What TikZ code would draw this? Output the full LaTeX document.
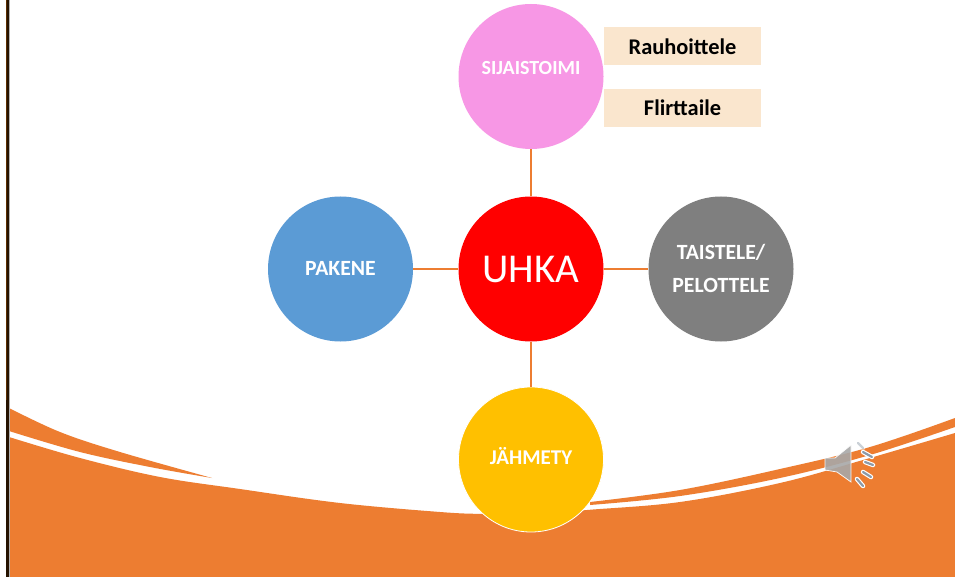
\documentclass[tikz,border=0pt]{standalone}
\usepackage{fontspec}
\setmainfont{Carlito}
\definecolor{orangeband}{HTML}{ED7D31}
\definecolor{tagfill}{HTML}{FAE6CE}
\definecolor{pinkc}{HTML}{F797E5}
\definecolor{bluec}{HTML}{5B9BD5}
\definecolor{grayc}{HTML}{7F7F7F}
\definecolor{yellowc}{HTML}{FFC000}
\definecolor{spkgray}{HTML}{A8A8A8}
\definecolor{spkdash}{HTML}{8C9AA8}
\newcommand{\shifted}[2]{\raisebox{#1}[0pt][0pt]{#2}}
\tikzset{
  circ/.style={circle,minimum size=145pt,inner sep=0pt,text=white,align=center,font=\fontsize{21.7}{32}\selectfont\bfseries},
  tag/.style={draw=none,fill=tagfill,minimum width=157pt,minimum height=38pt,inner sep=0pt,font=\fontsize{22.4}{24}\selectfont\bfseries},
  connline/.style={draw=orangeband,line width=1.2pt},
  spk/.style={draw=white,line width=0.8pt,fill=spkgray}
}
\begin{document}
\begin{tikzpicture}[x=1pt,y=-1pt]
\useasboundingbox (0,0) rectangle (955,577);
\fill[white] (0,0) rectangle (955,577);
% main orange swoosh
\fill[orangeband] plot[smooth,tension=0.6] coordinates {(9,437) (80,458) (160,477) (240,489) (340,503) (440,512) (482,514) (531,515) (587,510) (680,502) (780,483) (863,460) (955,433)} -- (955,577) -- (9,577) -- cycle;
% upper left sliver
\fill[orangeband] plot[smooth,tension=0.6] coordinates {(9,408) (60,432) (120,452) (212,478)} -- plot[smooth,tension=0.6] coordinates {(212,478) (150,467) (80,452) (9,431)} -- cycle;
% upper right sliver
\fill[orangeband] plot[smooth,tension=0.6] coordinates {(590,502) (680,490) (780,469) (870,447) (955,418)} -- plot[smooth,tension=0.6] coordinates {(955,427) (870,455) (780,478) (680,496) (590,505)} -- cycle;
% left rule
\fill[black!85!orange] (6,0) rectangle (9,577);
\fill[black!55!orange!80!black] (6,0) rectangle (7.2,400);
\fill[gray!60] (9,0) rectangle (9.8,577);
% speaker
\fill[spk,draw=white,opacity=0.9] (825,458) -- (835,458) -- (851,445) -- (851,482) -- (837,472) -- (825,470) -- cycle;
\foreach \a/\b/\c/\d/\o in {858/443/863/448/0.45,863/452/872/457/1,865/462/873/465/1,863/472/871/477/1,857/479/863/486/1}{
  \draw[white,line width=4.5pt,line cap=round,opacity=\o] (\a,\b) -- (\c,\d);
  \draw[spkdash,line width=2.2pt,line cap=round,opacity=\o] (\a,\b) -- (\c,\d);
}
% nodes
\node[circ,fill=red,font=\fontsize{41}{44}\selectfont] (c) at (531,269) {UHKA};
\node[circ,fill=pinkc,font=\fontsize{20}{24}\selectfont\bfseries] (t) at (531,76.5) {\shifted{1.5pt}{SIJAISTOIMI}};
\node[circ,fill=bluec] (l) at (340.5,269) {\shifted{-6pt}{PAKENE}};
\node[circ,fill=grayc] (r) at (721,269) {\shifted{-7pt}{TAISTELE/}\\\shifted{-7pt}{PELOTTELE}};
\node[circ,fill=yellowc,draw=white,line width=0.8pt,font=\fontsize{21}{24}\selectfont\bfseries] (b) at (531,459.5) {\shifted{-5.3pt}{JÄHMETY}};
\node[tag] (t1) at (682.5,46) {\shifted{-9pt}{Rauhoittele}};
\node[tag] (t2) at (682.5,108) {\shifted{-8pt}{Flirttaile}};
\draw[connline] (c.north) -- (t.south);
\draw[connline] (c.west) -- (l.east);
\draw[connline] (c.east) -- (r.west);
\draw[connline] (c.south) -- (b.north);
\end{tikzpicture}
\end{document}
